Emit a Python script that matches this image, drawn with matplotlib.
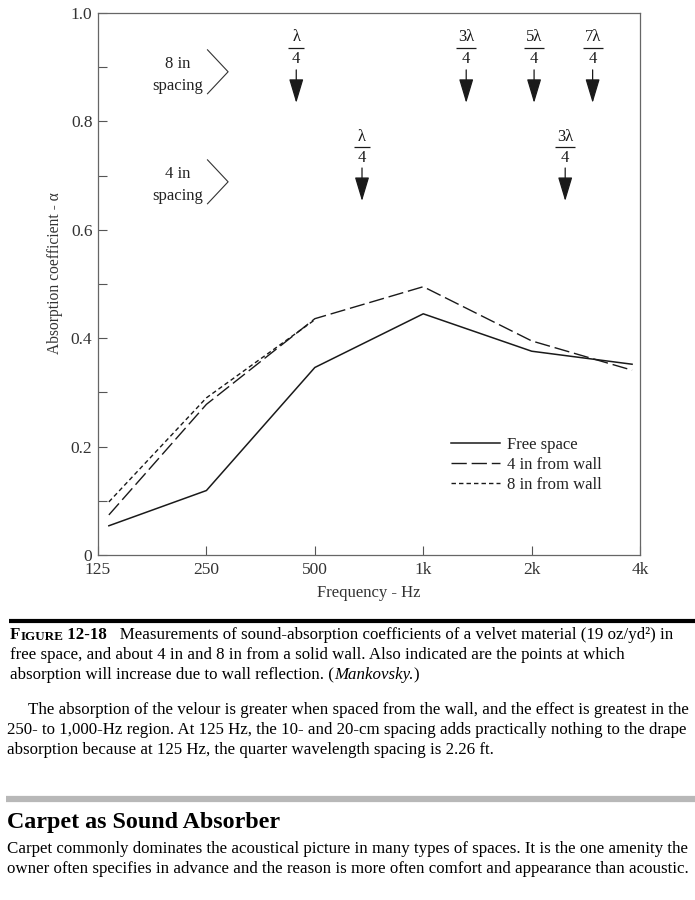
"""Velvet absorption coefficient chart (Figure 12-18) with caption and page text."""

import matplotlib
matplotlib.use("Agg")
import matplotlib.pyplot as plt
import matplotlib.ticker as ticker

plt.rcParams["font.family"] = ["Liberation Serif", "DejaVu Serif"]

# data
freqs = [134, 250, 500, 1000, 2000, 3800]
free_space = [0.054, 0.119, 0.346, 0.445, 0.376, 0.352]
four_in = [0.074, 0.278, 0.436, 0.495, 0.395, 0.341]
eight_in = [0.098, 0.290, 0.434]          # merges with the 4 in curve above 500 Hz

tick_freqs = [125, 250, 500, 1000, 2000, 4000]
tick_labels = ["125", "250", "500", "1k", "2k", "4k"]

# quarter-wave markers
marks_8in = [444, 1316, 2031, 2953]
labels_8in = ["λ", "3λ", "5λ", "7λ"]
marks_4in = [676, 2478]
labels_4in = ["λ", "3λ"]

INK = "#1a1a1a"

fig = plt.figure(figsize=(6.95, 9.0), dpi=100)
ax = fig.add_axes([0.141, 0.3833, 0.780, 0.6023])

ax.plot(freqs, free_space, "-", color=INK, lw=1.1, label="Free space")
ax.plot(freqs, four_in, color=INK, lw=1.0, dashes=(11, 3.5), label="4 in from wall")
ax.plot(freqs[:len(eight_in)], eight_in, color=INK, lw=1.0, dashes=(3.2, 2.2),
        label="8 in from wall")

ax.set_xscale("log", base=2)
ax.set_xlim(125, 4000)
ax.set_ylim(0, 1.0)
ax.xaxis.set_major_locator(ticker.FixedLocator(tick_freqs))
ax.xaxis.set_major_formatter(ticker.FixedFormatter(tick_labels))
ax.xaxis.set_minor_locator(ticker.NullLocator())
ax.yaxis.set_major_locator(ticker.MultipleLocator(0.2))
ax.yaxis.set_minor_locator(ticker.MultipleLocator(0.1))
ax.yaxis.set_major_formatter(ticker.FuncFormatter(lambda v, _: "0" if v == 0 else f"{v:.1f}"))

ax.tick_params(axis="both", which="both", direction="in", length=6.5, width=0.8,
               color="#555555", labelsize=12.5, labelcolor="#333333")
ax.tick_params(axis="x", pad=5)
ax.tick_params(axis="y", pad=4)
for sp in ax.spines.values():
    sp.set_color("#666666")
    sp.set_linewidth(0.9)

ax.set_xlabel("Frequency - Hz", fontsize=12, color="#333333", labelpad=5)
ax.set_ylabel("Absorption coefficient - α", fontsize=11.2, color="#333333")
ax.yaxis.set_label_coords(-0.064, 0.52)

ax.legend(loc="upper left", bbox_to_anchor=(0.636, 0.234), frameon=False,
          fontsize=12, handlelength=2.95, handletextpad=0.4, labelspacing=0.25,
          borderpad=0, labelcolor="#222222")

# quarter-wave arrows
def mark(freq, num, y_bar, y_tail, y_tip):
    ax.text(freq, y_bar + 0.020, num, ha="center", va="center", fontsize=12, color=INK)
    ax.text(freq, y_bar - 0.020, "4", ha="center", va="center", fontsize=12, color=INK)
    ax.plot(freq, y_bar, marker="_", markersize=14 if len(num) > 1 else 11,
            markeredgewidth=0.9, color=INK)
    ax.annotate("", xy=(freq, y_tip), xytext=(freq, y_tail),
                arrowprops=dict(arrowstyle="-|>,head_length=1.0,head_width=0.3",
                                color=INK, lw=0.9, mutation_scale=15,
                                shrinkA=0, shrinkB=0))

for f, n in zip(marks_8in, labels_8in):
    mark(f, n, 0.935, 0.895, 0.834)
for f, n in zip(marks_4in, labels_4in):
    mark(f, n, 0.752, 0.714, 0.653)

# spacing labels with chevrons
for top, name in [(0.932, "8 in"), (0.729, "4 in")]:
    mid = top - 0.0405
    ax.text(0.147, mid + 0.014, name, transform=ax.transAxes, ha="center",
            va="center", fontsize=12, color="#222222")
    ax.text(0.147, mid - 0.026, "spacing", transform=ax.transAxes, ha="center",
            va="center", fontsize=12, color="#222222")
    ax.plot([0.202, 0.240, 0.202], [top, mid, mid - 0.0405], transform=ax.transAxes,
            color="#333333", lw=0.8)

# page text below the chart
page = fig.add_axes([0, 0, 1, 1])
page.set_xlim(0, 695)
page.set_ylim(900, 0)
page.axis("off")
page.set_zorder(-1)

page.plot([9, 695], [621, 621], color="black", lw=3.0, solid_capstyle="butt")
page.plot([6, 695], [799, 799], color="#b8b8b8", lw=4.5, solid_capstyle="butt")

def chain(parts, x, y):
    prev = None
    for txt, kw in parts:
        if prev is None:
            prev = page.text(x, y, txt, va="baseline", ha="left", color="black", **kw)
        else:
            prev = page.annotate(txt, xy=(1, 0), xycoords=prev, va="bottom",
                                 ha="left", color="black", **kw)
    return prev

cap = 12.15
chain([("F", dict(fontsize=cap, fontweight="bold")),
       ("IGURE", dict(fontsize=cap * 0.78, fontweight="bold")),
       (" 12-18", dict(fontsize=cap, fontweight="bold")),
       ("   Measurements of sound-absorption coefficients of a velvet material (19 oz/yd²) in",
        dict(fontsize=cap))], 10, 639)
page.text(10, 659, "free space, and about 4 in and 8 in from a solid wall. Also indicated are the points at which",
          fontsize=cap, va="baseline")
chain([("absorption will increase due to wall reflection. (", dict(fontsize=cap)),
       ("Mankovsky.", dict(fontsize=cap, style="italic")),
       (")", dict(fontsize=cap))], 10, 679)

body = 12.2
para = [
    (28, 714, "The absorption of the velour is greater when spaced from the wall, and the effect is greatest in the"),
    (7, 734, "250- to 1,000-Hz region. At 125 Hz, the 10- and 20-cm spacing adds practically nothing to the drape"),
    (7, 754, "absorption because at 125 Hz, the quarter wavelength spacing is 2.26 ft."),
    (7, 853, "Carpet commonly dominates the acoustical picture in many types of spaces. It is the one amenity the"),
    (7, 873, "owner often specifies in advance and the reason is more often comfort and appearance than acoustic."),
]
for x, y, line in para:
    page.text(x, y, line, fontsize=body, va="baseline")

page.text(7, 828, "Carpet as Sound Absorber", fontsize=17.3, fontweight="bold", va="baseline")

fig.savefig("out.png", dpi=100)
